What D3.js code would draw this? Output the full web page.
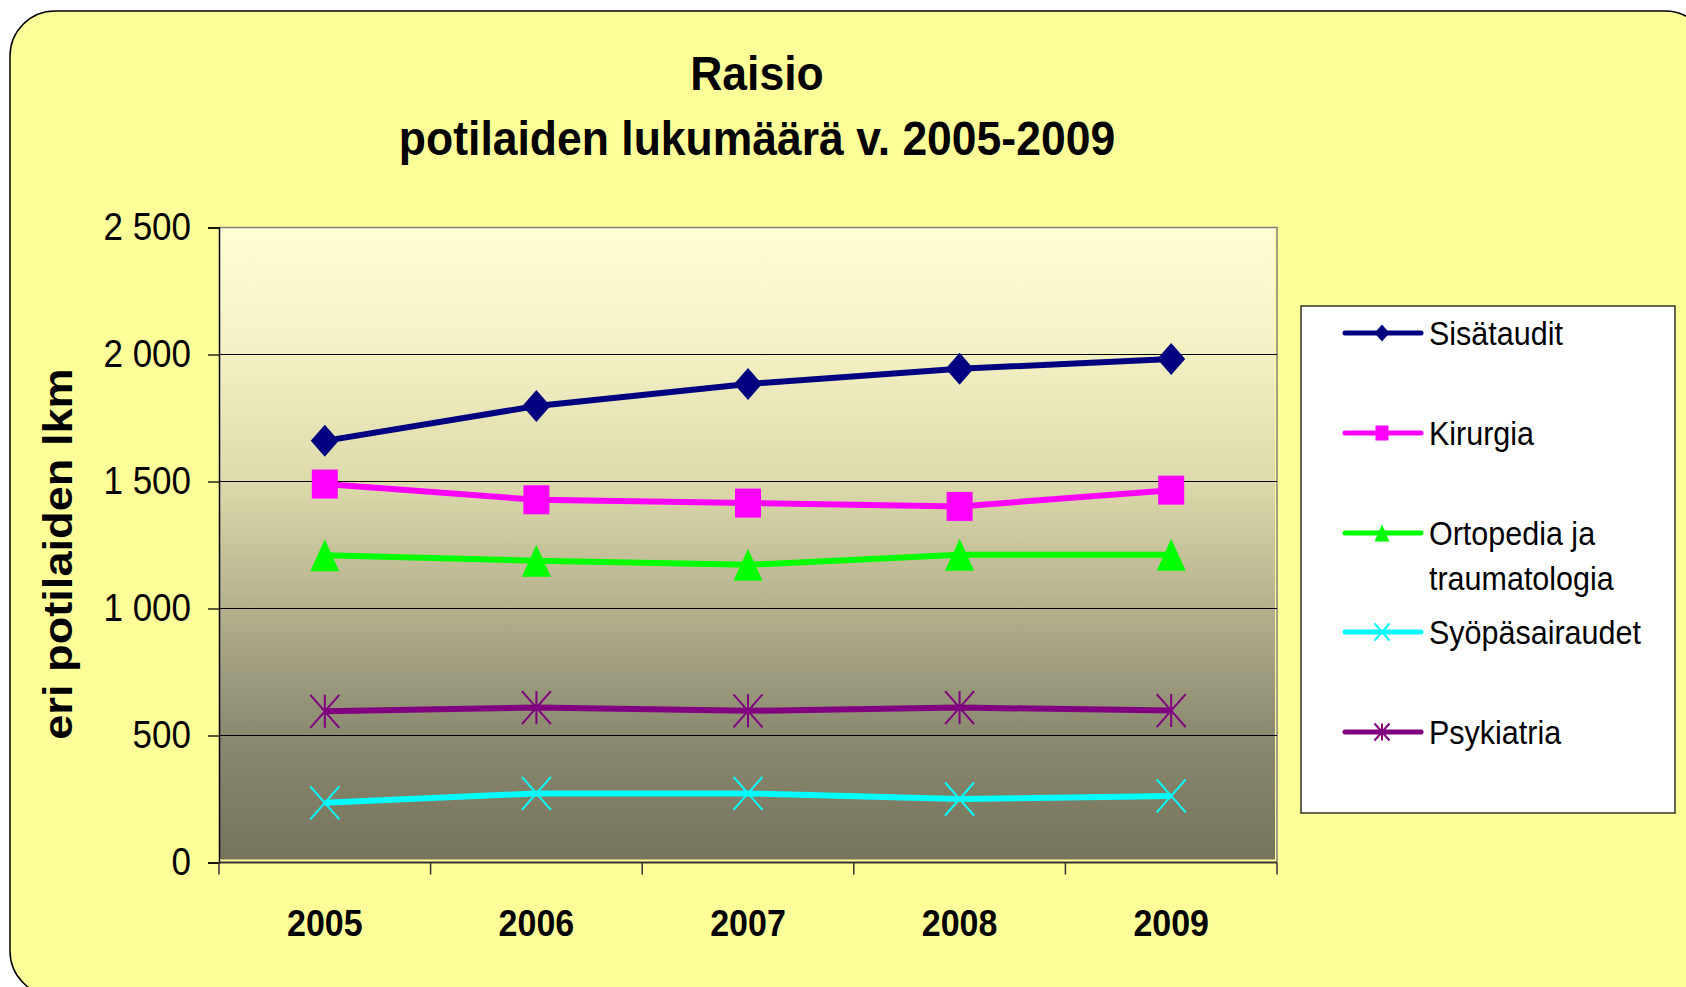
<!DOCTYPE html>
<html>
<head>
<meta charset="utf-8">
<script src="https://cdn.jsdelivr.net/npm/d3@7"></script>
<style>
  body { margin: 0; background: #ffffff; }
  text { font-family: "Liberation Sans", Arial, sans-serif; }
</style>
</head>
<body>
<div id="chart"></div>
<script>
// data
const years = ['2005', '2006', '2007', '2008', '2009'];
const sisataudit = [1660, 1797, 1884, 1944, 1982];
const kirurgia = [1490, 1428, 1415, 1402, 1466];
const ortopedia = [1210, 1188, 1172, 1212, 1212];
const syopa = [235, 272, 272, 250, 262];
const psykiatria = [595, 610, 597, 610, 598];
const yTicks = [0, 500, 1000, 1500, 2000, 2500];

const seriesNames = ['Sisätaudit', 'Kirurgia', 'Ortopedia ja traumatologia', 'Syöpäsairaudet', 'Psykiatria'];
const seriesColors = ['#000080', '#ff00ff', '#00ff00', '#00ffff', '#800080'];
const seriesMarkers = ['diamond', 'square', 'triangle', 'x', 'star'];
const seriesValues = [sisataudit, kirurgia, ortopedia, syopa, psykiatria];

const W = 1686, H = 987;
const plot = { left: 219, top: 227.5, right: 1277, bottom: 862.5 };
const sy = 1.1; // the original picture is stretched a little vertically

const svg = d3.select('#chart')
    .append('svg')
    .attr('width', W)
    .attr('height', H);

const defs = svg.append('defs');
const grad = defs.append('linearGradient')
    .attr('id', 'plotbg')
    .attr('x1', 0).attr('y1', 0).attr('x2', 0).attr('y2', 1);
[[0, '#fffed4'], [0.2, '#f3f1c4'], [0.4, '#dddaab'], [0.6, '#b4b18e'], [0.8, '#8b8a70'], [1, '#75745c']]
    .forEach(s => grad.append('stop').attr('offset', s[0]).attr('stop-color', s[1]));

// chart area background
svg.append('rect')
    .attr('x', 10).attr('y', 11)
    .attr('width', 1700).attr('height', 985)
    .attr('rx', 45).attr('ry', 45)
    .attr('fill', '#ffff99')
    .attr('stroke', '#000')
    .attr('stroke-width', 1.5);

const xScale = d3.scaleBand()
    .domain(years)
    .range([plot.left, plot.right])
    .padding(0);

const yScale = d3.scaleLinear()
    .domain([0, 2500])
    .range([plot.bottom, plot.top]);

// plot area
svg.append('rect')
    .attr('x', plot.left)
    .attr('y', plot.top)
    .attr('width', plot.right - plot.left - 2)
    .attr('height', plot.bottom - plot.top - 3)
    .attr('fill', 'url(#plotbg)');
svg.append('path')
    .attr('d', `M${plot.left},${plot.top}H${plot.right}V${plot.bottom}`)
    .attr('fill', 'none')
    .attr('stroke', '#808080')
    .attr('stroke-width', 1.5);

// gridlines
svg.append('g')
    .selectAll('line')
    .data(yTicks.filter(d => d > 0 && d < 2500))
    .enter()
    .append('line')
    .attr('x1', plot.left).attr('x2', plot.right)
    .attr('y1', d => yScale(d)).attr('y2', d => yScale(d))
    .attr('stroke', '#000')
    .attr('stroke-width', 1);

// y axis
const locale = d3.formatLocale({ decimal: ',', thousands: ' ', grouping: [3], currency: ['', ''] });
const yAxis = svg.append('g')
    .attr('class', 'y-axis')
    .attr('transform', `translate(${plot.left},0)`)
    .call(d3.axisLeft(yScale).tickValues(yTicks).tickSize(11).tickPadding(17).tickFormat(locale.format(',d')));
yAxis.select('.domain').attr('stroke', '#000').attr('stroke-width', 1.5);
yAxis.selectAll('.tick line').attr('stroke', '#000').attr('stroke-width', 1.3);
yAxis.selectAll('text')
    .attr('font-size', 35)
    .attr('fill', '#000')
    .attr('transform', `scale(1,${sy})`)
    .style('font-family', '"Liberation Sans", Arial, sans-serif');

// x axis: line with ticks at category boundaries
svg.append('line')
    .attr('x1', plot.left).attr('x2', plot.right)
    .attr('y1', plot.bottom).attr('y2', plot.bottom)
    .attr('stroke', '#333').attr('stroke-width', 2);
const bounds = years.map(d => xScale(d)).concat([xScale.range()[1]]);
svg.append('g')
    .selectAll('line')
    .data(bounds)
    .enter()
    .append('line')
    .attr('x1', d => d).attr('x2', d => d)
    .attr('y1', plot.bottom).attr('y2', plot.bottom + 12)
    .attr('stroke', '#333').attr('stroke-width', 1.5);

svg.append('g')
    .selectAll('text')
    .data(years)
    .enter()
    .append('text')
    .attr('transform', d => `translate(${xScale(d) + xScale.bandwidth() / 2},936) scale(1,${sy})`)
    .attr('text-anchor', 'middle')
    .attr('font-size', 34)
    .attr('font-weight', 'bold')
    .text(d => d);

// titles
function addText(x, y, str, size, bold, anchor) {
    return svg.append('text')
        .attr('transform', `translate(${x},${y}) scale(1,${sy})`)
        .attr('text-anchor', anchor || 'middle')
        .attr('font-size', size)
        .attr('font-weight', bold ? 'bold' : 'normal')
        .text(str);
}
addText(757, 90, 'Raisio', 44.5, true);
addText(757, 155, 'potilaiden lukumäärä v. 2005-2009', 44.5, true);

svg.append('text')
    .attr('transform', `translate(72,554) rotate(-90) scale(1.13,1)`)
    .attr('text-anchor', 'middle')
    .attr('font-size', 40)
    .attr('font-weight', 'bold')
    .text('eri potilaiden lkm');

// marker shapes
function markerPath(type, w, h) {
    const a = w / 2, b = h / 2;
    if (type === 'diamond') return `M0,${-b}L${a},0L0,${b}L${-a},0Z`;
    if (type === 'square') return `M${-a},${-b}H${a}V${b}H${-a}Z`;
    if (type === 'triangle') return `M0,${-b}L${a},${b}H${-a}Z`;
    if (type === 'x') return `M${-a},${-b}L${a},${b}M${a},${-b}L${-a},${b}`;
    return `M${-a},${-b}L${a},${b}M${a},${-b}L${-a},${b}M0,${-b}V${b}`;
}
const markerSize = {
    diamond: [28, 32], square: [26, 29], triangle: [29, 32], x: [29, 33], star: [29, 33]
};
const legendMarkerSize = {
    diamond: [15, 17], square: [13, 15], triangle: [15, 17], x: [15, 17], star: [15, 17]
};
function styleMarker(sel, type, color) {
    if (type === 'x' || type === 'star') {
        sel.attr('fill', 'none').attr('stroke', color).attr('stroke-width', 2);
    } else {
        sel.attr('fill', color).attr('stroke', 'none');
    }
}

const line = d3.line()
    .x((d, i) => xScale(years[i]) + xScale.bandwidth() / 2)
    .y(d => yScale(d));

seriesValues.forEach((vals, k) => {
    const g = svg.append('g').attr('class', 'series');
    g.append('path')
        .datum(vals)
        .attr('d', line)
        .attr('fill', 'none')
        .attr('stroke', seriesColors[k])
        .attr('stroke-width', 6)
        .attr('stroke-linejoin', 'round');
    const type = seriesMarkers[k];
    const pts = g.selectAll('.pt')
        .data(vals)
        .enter()
        .append('path')
        .attr('class', 'pt')
        .attr('transform', (d, i) => `translate(${xScale(years[i]) + xScale.bandwidth() / 2},${yScale(d)})`)
        .attr('d', markerPath(type, markerSize[type][0], markerSize[type][1]));
    styleMarker(pts, type, seriesColors[k]);
});

// legend
const legend = svg.append('g').attr('class', 'legend');
legend.append('rect')
    .attr('x', 1301).attr('y', 306)
    .attr('width', 374).attr('height', 507)
    .attr('fill', '#fff')
    .attr('stroke', '#000')
    .attr('stroke-width', 1.2);
const legendY = [333, 433, 533, 632, 732];
seriesNames.forEach((name, k) => {
    const y = legendY[k];
    legend.append('line')
        .attr('x1', 1345).attr('x2', 1421)
        .attr('y1', y).attr('y2', y)
        .attr('stroke', seriesColors[k])
        .attr('stroke-width', 5)
        .attr('stroke-linecap', 'round');
    const type = seriesMarkers[k];
    const m = legend.append('path')
        .attr('transform', `translate(1382,${y})`)
        .attr('d', markerPath(type, legendMarkerSize[type][0], legendMarkerSize[type][1]));
    styleMarker(m, type, seriesColors[k]);
    if (name === 'Ortopedia ja traumatologia') {
        legend.append('text')
            .attr('transform', `translate(1429,${y + 12}) scale(1,${sy})`)
            .attr('font-size', 30.5).text('Ortopedia ja');
        legend.append('text')
            .attr('transform', `translate(1429,${y + 57}) scale(1,${sy})`)
            .attr('font-size', 30.5).text('traumatologia');
    } else {
        legend.append('text')
            .attr('transform', `translate(1429,${y + 12}) scale(1,${sy})`)
            .attr('font-size', 30.5).text(name);
    }
});
</script>
</body>
</html>
